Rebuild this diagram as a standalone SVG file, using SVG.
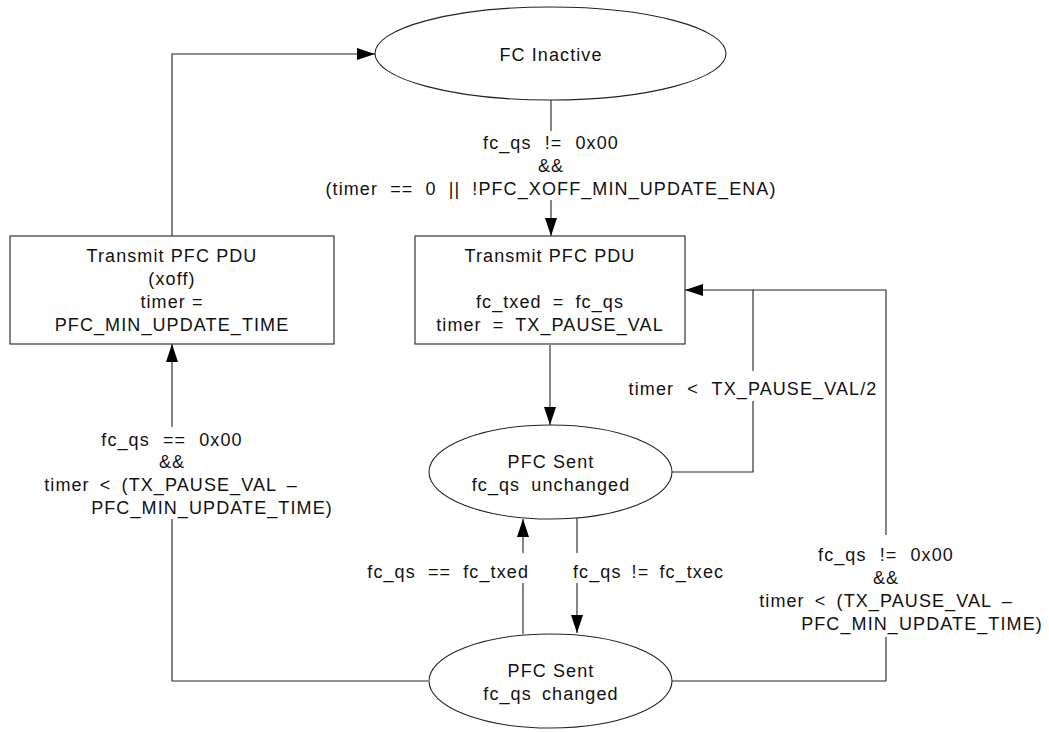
<svg xmlns="http://www.w3.org/2000/svg" width="1049" height="732" viewBox="0 0 1049 732">
<style>
text{font-family:"Liberation Sans",Arial,sans-serif;font-size:18px;letter-spacing:1.1px;fill:#111;text-anchor:middle}
.w4{word-spacing:4px}
.w5{word-spacing:5px}
.w6{word-spacing:6px}
.w7{word-spacing:7px}
.shape{fill:#fff;stroke:#222;stroke-width:1.1}
.conn{fill:none;stroke:#222;stroke-width:1.1}
.bg{fill:#fff;stroke:none}
</style>
<defs>
<marker id="arr" viewBox="0 0 18 12" refX="18" refY="6" markerWidth="18" markerHeight="12" markerUnits="userSpaceOnUse" orient="auto">
<path d="M0,0 L18,6 L0,12 Z" fill="#000"/>
</marker>
</defs>
<rect width="1049" height="732" fill="#fff"/>
<g id="connectors">
<path class="conn" d="M172,236 V54 H375" marker-end="url(#arr)"/>
<path class="conn" d="M551,100 V236" marker-end="url(#arr)"/>
<path class="conn" d="M550,345 V425" marker-end="url(#arr)"/>
<path class="conn" d="M672,472 H753 V290 H685" marker-end="url(#arr)"/>
<path class="conn" d="M672,681 H886 V290 H753"/>
<path class="conn" d="M428,681 H172 V344" marker-end="url(#arr)"/>
<path class="conn" d="M523,634 V519" marker-end="url(#arr)"/>
<path class="conn" d="M577,518 V633" marker-end="url(#arr)"/>
<g id="label-top">
<rect class="bg" x="322" y="131" width="456" height="69"/>
<text class="w7" x="551" y="149">fc_qs != 0x00</text>
<text x="551" y="172">&amp;&amp;</text>
<text class="w6" x="551" y="195">(timer == 0 || !PFC_XOFF_MIN_UPDATE_ENA)</text>
</g>
<g id="label-left">
<rect class="bg" x="38" y="427" width="298" height="92"/>
<text class="w7" x="172" y="446">fc_qs == 0x00</text>
<text x="172" y="468">&amp;&amp;</text>
<text class="w4" x="171" y="491">timer &lt; (TX_PAUSE_VAL –</text>
<text x="212" y="514">PFC_MIN_UPDATE_TIME)</text>
</g>
<g id="label-half">
<rect class="bg" x="624" y="371" width="256" height="30"/>
<text class="w7" x="753" y="395">timer &lt; TX_PAUSE_VAL/2</text>
</g>
<g id="label-right">
<rect class="bg" x="753" y="535" width="295" height="102"/>
<text class="w7" x="886" y="561">fc_qs != 0x00</text>
<text x="886" y="584">&amp;&amp;</text>
<text class="w4" x="886" y="607">timer &lt; (TX_PAUSE_VAL –</text>
<text x="922" y="630">PFC_MIN_UPDATE_TIME)</text>
</g>
<g id="label-eq">
<rect class="bg" x="360" y="553" width="172" height="30"/>
<text class="w6" x="529" y="578" style="text-anchor:end">fc_qs == fc_txed</text>
</g>
<g id="label-ne">
<rect class="bg" x="571" y="553" width="154" height="30"/>
<text class="w4" x="573" y="578" style="text-anchor:start">fc_qs != fc_txec</text>
</g>
</g>
<g id="node-fc-inactive">
<ellipse class="shape" cx="550.5" cy="53.5" rx="175.5" ry="46.5"/>
<text x="551" y="61">FC Inactive</text>
</g>
<g id="node-tx-xoff">
<rect class="shape" x="10" y="236" width="324" height="108"/>
<text x="172" y="262">Transmit PFC PDU</text>
<text x="172" y="285">(xoff)</text>
<text x="172" y="308">timer =</text>
<text x="172" y="331">PFC_MIN_UPDATE_TIME</text>
</g>
<g id="node-tx-pfc">
<rect class="shape" x="415" y="236" width="270" height="108"/>
<text x="550" y="262">Transmit PFC PDU</text>
<text class="w5" x="550" y="308">fc_txed = fc_qs</text>
<text class="w5" x="550" y="331">timer = TX_PAUSE_VAL</text>
</g>
<g id="node-sent-unchanged">
<ellipse class="shape" cx="550.5" cy="472" rx="121.5" ry="47"/>
<text x="551" y="468">PFC Sent</text>
<text class="w5" x="551" y="491">fc_qs unchanged</text>
</g>
<g id="node-sent-changed">
<ellipse class="shape" cx="550.5" cy="681" rx="121.5" ry="47"/>
<text x="551" y="677">PFC Sent</text>
<text class="w4" x="551" y="700">fc_qs changed</text>
</g>
</svg>
